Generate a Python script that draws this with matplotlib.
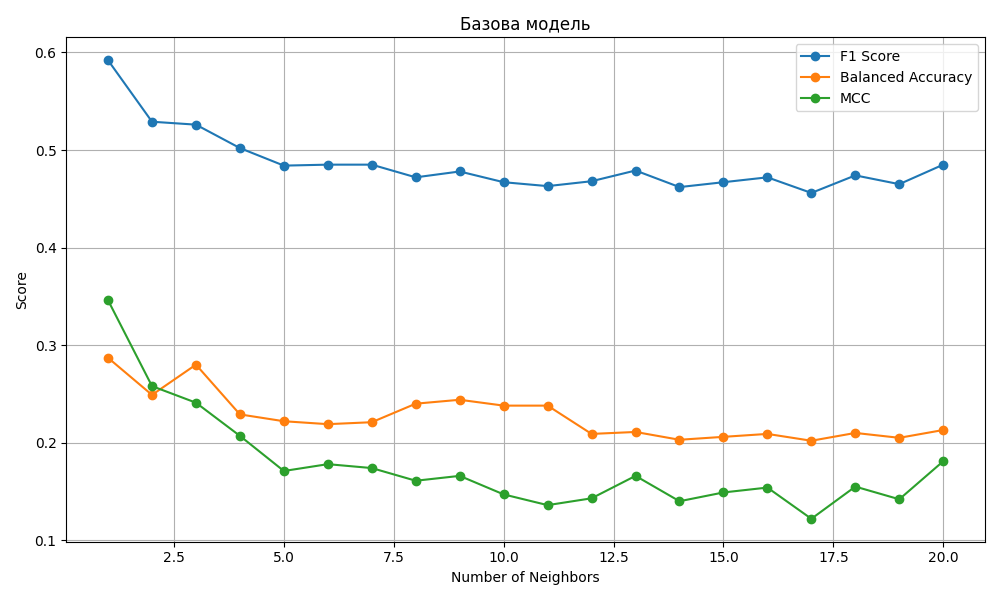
import matplotlib
matplotlib.use('Agg')
import matplotlib.pyplot as plt

neighbors = list(range(1, 21))
f1_scores = [0.592, 0.529, 0.526, 0.502, 0.484, 0.485, 0.485, 0.472, 0.478, 0.467,
             0.463, 0.468, 0.479, 0.462, 0.467, 0.472, 0.456, 0.474, 0.465, 0.485]
balanced_acc = [0.287, 0.249, 0.280, 0.229, 0.222, 0.219, 0.221, 0.240, 0.244, 0.238,
                0.238, 0.209, 0.211, 0.203, 0.206, 0.209, 0.202, 0.210, 0.205, 0.213]
mcc_scores = [0.346, 0.258, 0.241, 0.207, 0.171, 0.178, 0.174, 0.161, 0.166, 0.147,
              0.136, 0.143, 0.166, 0.140, 0.149, 0.154, 0.122, 0.155, 0.142, 0.181]

plt.figure(figsize=(10, 6))
plt.plot(neighbors, f1_scores, marker='o', label='F1 Score')
plt.plot(neighbors, balanced_acc, marker='o', label='Balanced Accuracy')
plt.plot(neighbors, mcc_scores, marker='o', label='MCC')
plt.title('Базова модель')
plt.xlabel('Number of Neighbors')
plt.ylabel('Score')
plt.legend()
plt.grid(True)
plt.tight_layout()
plt.savefig('out.png', dpi=100)
